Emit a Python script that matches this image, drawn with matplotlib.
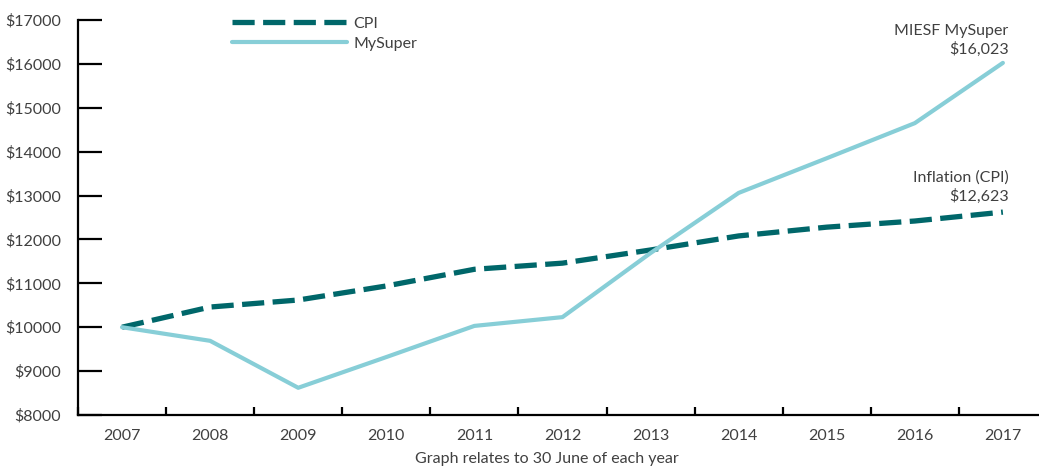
import matplotlib.pyplot as plt
import numpy as np

years = ["2007", "2008", "2009", "2010", "2011", "2012", "2013", "2014", "2015", "2016", "2017"]
cpi = [10000, 10460, 10620, 10940, 11320, 11460, 11760, 12080, 12280, 12420, 12623]
mysuper = [10000, 9690, 8620, 9320, 10030, 10230, 11690, 13060, 13850, 14650, 16023]
yticks = list(range(8000, 17001, 1000))

plt.rcParams['font.family'] = ['Lato', 'DejaVu Sans']
text_col = '#404040'

fig = plt.figure(figsize=(10.39, 4.66), dpi=100)
ax = fig.add_axes([78 / 1039, 1 - 415 / 466, 1 - 78 / 1039, (415 - 20) / 466])

x = np.arange(len(years))
ax.plot(x, cpi, color='#00676a', lw=3.8, dashes=(4.2, 1.6), label='CPI',
        solid_capstyle='butt', dash_capstyle='butt', zorder=2)
ax.plot(x, mysuper, color='#87ced7', lw=3.0, label='MySuper',
        solid_capstyle='round', zorder=3)

ax.set_xlim(-0.5, 10.41)
ax.set_ylim(8000, 17000)
ax.set_yticks(yticks)
ax.set_yticklabels([f'${v}' for v in yticks])
ax.set_xticks(x)
ax.set_xticklabels(years)
ax.set_xticks(np.arange(-0.5, 10.5, 1.0), minor=True)

ax.tick_params(axis='y', direction='in', length=17, width=1.6, pad=12,
               labelsize=11.5, labelcolor=text_col)
ax.tick_params(axis='x', which='major', length=0, pad=10,
               labelsize=11.5, labelcolor=text_col)
ax.tick_params(axis='x', which='minor', direction='in', length=6, width=1.6)

for s in ['top', 'right']:
    ax.spines[s].set_visible(False)
for s in ['left', 'bottom']:
    ax.spines[s].set_linewidth(1.6)

fig.text(547 / 1039, 1 - 459 / 466, 'Graph relates to 30 June of each year',
         ha='center', va='center', fontsize=11.5, color=text_col)

ax.annotate('MIESF MySuper\n$16,023', xy=(10, mysuper[-1]), xytext=(4, 4),
            textcoords='offset points', ha='right', va='bottom',
            fontsize=11.5, color=text_col, linespacing=1.35)
ax.annotate('Inflation (CPI)\n$12,623', xy=(10, cpi[-1]), xytext=(4, 6),
            textcoords='offset points', ha='right', va='bottom',
            fontsize=11.5, color=text_col, linespacing=1.35)

leg = ax.legend(loc='upper left', bbox_to_anchor=(0.145, 1.045), frameon=False,
                handlelength=7.2, handletextpad=0.4, fontsize=11.5,
                labelspacing=0.35)
for t in leg.get_texts():
    t.set_color(text_col)

fig.savefig('out.png', dpi=100)
